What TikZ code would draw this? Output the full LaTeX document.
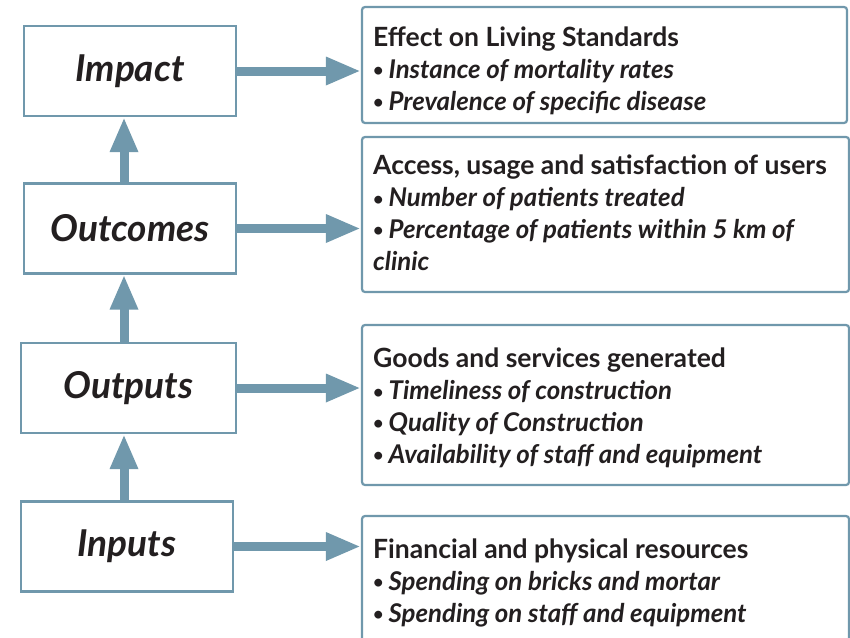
\documentclass[tikz,border=0pt]{standalone}
\usepackage{fontspec}
\setmainfont{Lato}
\usetikzlibrary{arrows.meta}
\definecolor{frame}{RGB}{112,152,172}
\definecolor{ink}{RGB}{35,31,32}
\newcommand\blt{\raisebox{1.6pt}{\fontsize{18}{20}\selectfont\textbullet}}
\newcommand\itm[1]{{\fontsize{25.8}{31.7}\selectfont\blt\hspace{5pt}\textit{#1}}}
\begin{document}
\begin{tikzpicture}[x=1pt,y=-1pt,
  leftbox/.style={draw=frame,line width=2.2pt,fill=white,minimum width=212pt,minimum height=90pt,inner sep=0pt,text=ink,font=\fontsize{37}{42}\selectfont\bfseries\itshape},
  rightbox/.style={draw=frame,line width=2.2pt,rounded corners=3pt,inner sep=0pt,minimum width=487pt},
  info/.style={anchor=base west,align=left,inner sep=0pt,text=ink,font=\fontsize{26.5}{31.7}\selectfont\bfseries},
  flow/.style={draw=frame,line width=9pt,-{Triangle[width=26pt,length=35pt]}}
]
\useasboundingbox (0,0) rectangle (850,637);
\clip (0,0) rectangle (850,637);
\fill[white] (0,0) rectangle (850,637);

% left boxes
\node[leftbox] (impact)   at (130,71)    {Impact};
\node[leftbox] (outcomes) at (130,228.5) {Outcomes};
\node[leftbox,minimum width=215pt] (outputs) at (128.5,388) {Outputs};
\node[leftbox] (inputs)   at (127,546.5) {Inputs};

% right boxes
\node[rightbox,minimum width=485pt,minimum height=116pt] (r1) at (604.5,65) {};
\node[rightbox,minimum height=155pt] (r2) at (605.5,214.5) {};
\node[rightbox,minimum height=160pt] (r3) at (605.5,405) {};
\node[rightbox,minimum height=144pt] (r4) at (605.5,588) {};

% texts (anchored at the baseline of their last line)
\node[info] (t1) at (373,110) {Effect on Living Standards\\
  \itm{Instance of mortality rates}\\
  \itm{Prevalence of specific disease}};
\node[info] (t2) at (373,270) {Access, usage and satisfaction of users\\
  \itm{Number of patients treated}\\
  \itm{Percentage of patients within 5 km of}\\
  {\fontsize{25.8}{31.7}\selectfont\textit{clinic}}};
\node[info] (t3) at (373,463) {Goods and services generated\\
  \itm{Timeliness of construction}\\
  \itm{Quality of Construction}\\
  \itm{Availability of staff and equipment}};
\node[info] (t4) at (373,622) {Financial and physical resources\\
  \itm{Spending on bricks and mortar}\\
  \itm{Spending on staff and equipment}};

% connectors
\coordinate (ax) at (124,0);
\draw[flow] (outcomes.north -| ax) -- (impact.south -| ax);
\draw[flow] (outputs.north -| ax) -- (outcomes.south -| ax);
\draw[flow] (inputs.north -| ax) -- (outputs.south -| ax);

\draw[flow] (impact.east) -- (impact.east -| r1.west);
\draw[flow] (outcomes.east) -- (outcomes.east -| r2.west);
\draw[flow] (outputs.east) -- (outputs.east -| r3.west);
\draw[flow] (inputs.east) -- (inputs.east -| r4.west);
\end{tikzpicture}
\end{document}
